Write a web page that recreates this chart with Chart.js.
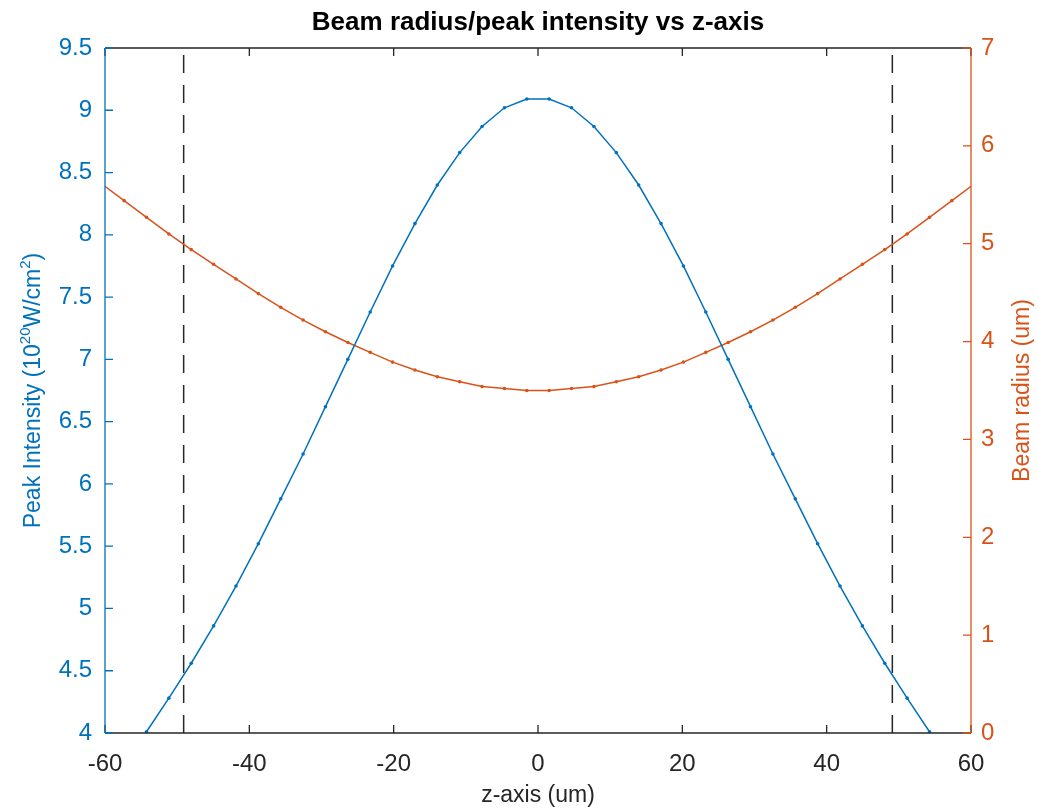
<!DOCTYPE html>
<html>
<head>
<meta charset="utf-8">
<script src="https://cdn.jsdelivr.net/npm/chart.js@4.4.1/dist/chart.umd.min.js"></script>
<style>
  body { margin: 0; background: #fff; }
  canvas { display: block; }
</style>
</head>
<body>
<canvas id="chart" width="1038" height="811"></canvas>
<script>
// z positions (um) of the sampled points
const zAxis = [
  -60.45, -57.35, -54.25, -51.15, -48.05, -44.95, -41.85, -38.75, -35.65, -32.55,
  -29.45, -26.35, -23.25, -20.15, -17.05, -13.95, -10.85, -7.75, -4.65, -1.55,
  1.55, 4.65, 7.75, 10.85, 13.95, 17.05, 20.15, 23.25, 26.35, 29.45,
  32.55, 35.65, 38.75, 41.85, 44.95, 48.05, 51.15, 54.25, 57.35, 60.45
];
// peak intensity (1e20 W/cm^2), only for zAxis[2] .. zAxis[37]
const peakIntensity = [
  4.01, 4.28, 4.56, 4.86, 5.18, 5.52, 5.88, 6.24, 6.62, 7.00,
  7.38, 7.75, 8.09, 8.40, 8.66, 8.87, 9.02, 9.09,
  9.09, 9.02, 8.87, 8.66, 8.40, 8.09, 7.75, 7.38,
  7.00, 6.62, 6.24, 5.88, 5.52, 5.18, 4.86, 4.56, 4.28, 4.01
];
// beam radius (um) for every zAxis entry
const beamRadius = [
  5.61, 5.44, 5.27, 5.10, 4.94, 4.79, 4.64, 4.49, 4.35, 4.22,
  4.10, 3.99, 3.89, 3.79, 3.71, 3.64, 3.59, 3.54, 3.52, 3.50,
  3.50, 3.52, 3.54, 3.59, 3.64, 3.71, 3.79, 3.89, 3.99, 4.10,
  4.22, 4.35, 4.49, 4.64, 4.79, 4.94, 5.10, 5.27, 5.44, 5.61
];
// dashed markers (Rayleigh range)
const rayleighZ = [-49.1, 49.1];

const xTicks = [-60, -40, -20, 0, 20, 40, 60];
const intensityTicks = [4, 4.5, 5, 5.5, 6, 6.5, 7, 7.5, 8, 8.5, 9, 9.5];
const radiusTicks = [0, 1, 2, 3, 4, 5, 6, 7];

// left label pieces: [text, superscript?]
const intensityLabel = [["Peak Intensity (10", false], ["20", true], ["W/cm", false], ["2", true], [")", false]];
const radiusLabel = "Beam radius (um)";

const BLUE = "#0072BD";
const ORANGE = "#D95319";
const DARK = "#262626";
const FONT = "'Liberation Sans', Arial, Helvetica, sans-serif";
const TICK_SIZE = 24;
const LABEL_SIZE = 23;
const SUP_SIZE = 15;

const blueZ = zAxis.slice(2, 38);

const setTicks = (values) => (scale) => {
  scale.ticks = values.map((v) => ({ value: v }));
};

// MATLAB style box with inward ticks, plus both y axis labels read bottom-up
const framePlugin = {
  id: "frame",
  afterDatasetsDraw(chart) {
    const { ctx, chartArea: a, scales } = chart;
    const len = 8;
    const midY = (a.top + a.bottom) / 2;
    ctx.save();
    ctx.lineWidth = 1.3;
    ctx.strokeStyle = DARK;
    ctx.beginPath();
    ctx.moveTo(a.left, a.top);
    ctx.lineTo(a.right, a.top);
    ctx.moveTo(a.left, a.bottom);
    ctx.lineTo(a.right, a.bottom);
    scales.x.ticks.forEach((t) => {
      const px = scales.x.getPixelForValue(t.value);
      ctx.moveTo(px, a.bottom);
      ctx.lineTo(px, a.bottom - len);
      ctx.moveTo(px, a.top);
      ctx.lineTo(px, a.top + len);
    });
    ctx.stroke();

    ctx.strokeStyle = BLUE;
    ctx.beginPath();
    ctx.moveTo(a.left, a.top);
    ctx.lineTo(a.left, a.bottom);
    scales.y.ticks.forEach((t) => {
      const py = scales.y.getPixelForValue(t.value);
      ctx.moveTo(a.left, py);
      ctx.lineTo(a.left + len, py);
    });
    ctx.stroke();

    ctx.strokeStyle = ORANGE;
    ctx.beginPath();
    ctx.moveTo(a.right, a.top);
    ctx.lineTo(a.right, a.bottom);
    scales.y1.ticks.forEach((t) => {
      const py = scales.y1.getPixelForValue(t.value);
      ctx.moveTo(a.right, py);
      ctx.lineTo(a.right - len, py);
    });
    ctx.stroke();
    ctx.restore();

    // left axis title with superscripts
    ctx.save();
    ctx.translate(40, midY);
    ctx.rotate(-Math.PI / 2);
    ctx.fillStyle = BLUE;
    ctx.textBaseline = "alphabetic";
    ctx.textAlign = "left";
    const fontFor = (sup) => (sup ? SUP_SIZE : LABEL_SIZE) + "px " + FONT;
    let total = 0;
    intensityLabel.forEach(([txt, sup]) => {
      ctx.font = fontFor(sup);
      total += ctx.measureText(txt).width;
    });
    let cx = -total / 2;
    intensityLabel.forEach(([txt, sup]) => {
      ctx.font = fontFor(sup);
      ctx.fillText(txt, cx, sup ? -10 : 0);
      cx += ctx.measureText(txt).width;
    });
    ctx.restore();

    // right axis title
    ctx.save();
    ctx.translate(1023, midY);
    ctx.rotate(-Math.PI / 2);
    ctx.fillStyle = ORANGE;
    ctx.font = LABEL_SIZE + "px " + FONT;
    ctx.textAlign = "center";
    ctx.textBaseline = "middle";
    ctx.fillText(radiusLabel, 0, 0);
    ctx.restore();
  },
};

new Chart(document.getElementById("chart"), {
  type: "line",
  data: {
    datasets: [
      {
        label: "Peak intensity",
        data: blueZ.map((z, i) => ({ x: z, y: peakIntensity[i] })),
        yAxisID: "y",
        borderColor: BLUE,
        backgroundColor: BLUE,
        borderWidth: 1.5,
        pointRadius: 1.8,
        pointBorderWidth: 0,
        tension: 0,
      },
      {
        label: "Beam radius",
        data: zAxis.map((z, i) => ({ x: z, y: beamRadius[i] })),
        yAxisID: "y1",
        borderColor: ORANGE,
        backgroundColor: ORANGE,
        borderWidth: 1.5,
        pointRadius: 1.8,
        pointBorderWidth: 0,
        tension: 0,
      },
      ...rayleighZ.map((z) => ({
        label: "z_R",
        data: [{ x: z, y: intensityTicks[0] }, { x: z, y: intensityTicks[intensityTicks.length - 1] }],
        yAxisID: "y",
        borderColor: DARK,
        borderWidth: 1.5,
        borderDash: [18, 12],
        pointRadius: 0,
      })),
    ],
  },
  options: {
    responsive: false,
    animation: false,
    layout: { padding: 0 },
    plugins: {
      legend: { display: false },
      tooltip: { enabled: false },
      title: {
        display: true,
        fullSize: false,
        text: "Beam radius/peak intensity vs z-axis",
        color: "#000",
        font: { family: FONT, size: 26, weight: "bold" },
        padding: { top: 7, bottom: 9.8 },
      },
    },
    scales: {
      x: {
        type: "linear",
        min: -60,
        max: 60,
        afterBuildTicks: setTicks(xTicks),
        afterFit: (s) => { s.height = 78; },
        grid: { display: false, drawTicks: false },
        border: { display: false },
        ticks: { color: DARK, padding: 17, font: { family: FONT, size: TICK_SIZE }, maxRotation: 0 },
        title: {
          display: true,
          text: "z-axis (um)",
          color: DARK,
          font: { family: FONT, size: LABEL_SIZE },
          padding: { top: 0, bottom: 1.2 },
        },
      },
      y: {
        type: "linear",
        position: "left",
        min: 4,
        max: 9.5,
        afterBuildTicks: setTicks(intensityTicks),
        afterFit: (s) => { s.width = 105; },
        grid: { display: false, drawTicks: false },
        border: { display: false },
        ticks: { color: BLUE, padding: 13, font: { family: FONT, size: TICK_SIZE }, callback: (v) => String(v) },
        title: { display: false },
      },
      y1: {
        type: "linear",
        position: "right",
        min: 0,
        max: 7,
        afterBuildTicks: setTicks(radiusTicks),
        afterFit: (s) => { s.width = 67; },
        grid: { display: false, drawTicks: false },
        border: { display: false },
        ticks: { color: ORANGE, padding: 10, font: { family: FONT, size: TICK_SIZE }, callback: (v) => String(v) },
        title: { display: false },
      },
    },
  },
  plugins: [framePlugin],
});
</script>
</body>
</html>
